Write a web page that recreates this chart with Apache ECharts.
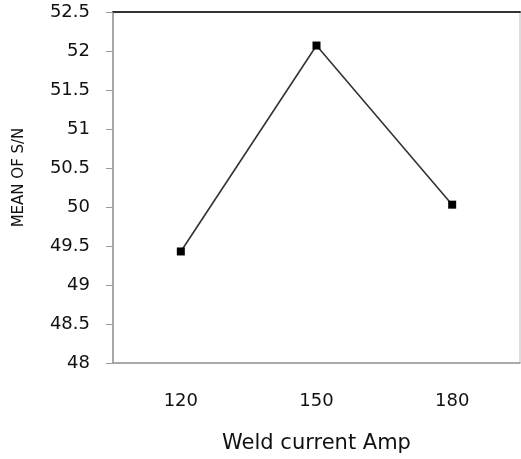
<!DOCTYPE html>
<html><head><meta charset="utf-8">
<script src="https://cdn.jsdelivr.net/npm/echarts@6/dist/echarts.min.js"></script>
<style>html,body{margin:0;padding:0;background:#fff}#c{width:521px;height:459px}</style>
</head><body><div id="c"></div>
<script>
const categories = ['120', '150', '180'];
const meanSN = [49.43, 52.07, 50.03];
const yTicks = { min: 48, max: 52.5, interval: 0.5 };
const xName = 'Weld current Amp';
const yName = 'MEAN OF S/N';

const chart = echarts.init(document.getElementById('c'));
const font = 'DejaVu Sans';
chart.setOption({
  animation: false,
  grid: { left: 113, right: 1, top: 12, bottom: 94, show: true, borderColor: '#bbb', borderWidth: 1 },
  xAxis: [{
    type: 'category', data: categories, boundaryGap: true,
    axisLine: { lineStyle: { color: '#999', width: 1.5 } },
    axisTick: { show: false },
    axisLabel: { color: '#111', fontFamily: font, fontSize: 18, margin: 29 },
    name: xName, nameLocation: 'middle', nameGap: 70,
    nameTextStyle: { color: '#111', fontFamily: font, fontSize: 21 }
  }, {
    type: 'category', data: categories, position: 'top',
    axisLine: { lineStyle: { color: '#333', width: 2 } },
    axisTick: { show: false }, axisLabel: { show: false }
  }],
  yAxis: {
    type: 'value', min: yTicks.min, max: yTicks.max, interval: yTicks.interval,
    axisLine: { show: true, lineStyle: { color: '#999', width: 1.5 } },
    axisTick: { show: true, length: 7, lineStyle: { color: '#999' } },
    splitLine: { show: false },
    axisLabel: { color: '#111', fontFamily: font, fontSize: 18, margin: 23 },
    name: yName, nameLocation: 'middle', nameGap: 86,
    nameTextStyle: { color: '#111', fontFamily: font, fontSize: 15, padding: [0, 0, 0, 20] }
  },
  series: [{
    type: 'line', data: meanSN, xAxisIndex: 0,
    symbol: 'rect', symbolSize: 8,
    itemStyle: { color: '#000' },
    lineStyle: { color: '#333', width: 1.6 }
  }]
});
</script></body></html>
